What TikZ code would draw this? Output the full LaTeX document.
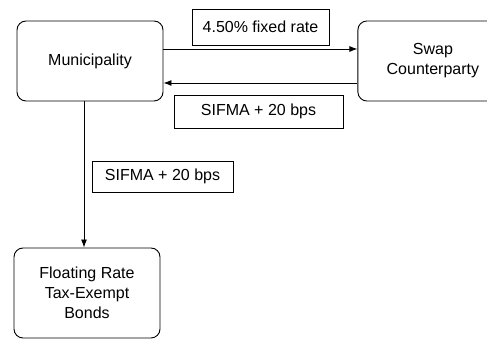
\documentclass[tikz,border=0pt]{standalone}
\usepackage{fontspec}
\setmainfont{Liberation Sans}
\usepackage{tikz}
\usetikzlibrary{arrows,arrows.meta,positioning,calc}

\begin{document}
\begin{tikzpicture}[
    x=1pt, y=1pt,
    >={Latex[length=8pt,width=6pt]},
    every node/.style={font=\fontsize{16}{20}\selectfont},
    party/.style={draw, line width=0.9pt, rounded corners=9pt,
                  minimum width=146pt, minimum height=80pt,
                  align=center, inner sep=0pt},
    flowlabel/.style={draw, line width=0.7pt, align=center,
                      inner sep=0pt},
    flow/.style={->, line width=0.9pt},
]
\useasboundingbox (0,0) rectangle (487,339);

% --- Parties ---
\node[party] (muni) at (90,278) {Municipality};
\node[party, minimum width=150pt, right=194pt of muni] (swap)
    {Swap\\Counterparty};
\node[party, minimum height=90pt] (bonds) at (87,46)
    {Floating Rate\\Tax-Exempt\\Bonds};

% --- Payment labels ---
\node[flowlabel, minimum width=137pt, minimum height=36pt] (fixed)
    at (260.5,312) {4.50\% fixed rate};
\node[flowlabel, minimum width=169pt, minimum height=33pt] (sifmaswap)
    at (258.5,227.5) {SIFMA + 20 bps};
\node[flowlabel, minimum width=141pt, minimum height=31pt] (sifmabond)
    at (162.5,162.5) {SIFMA + 20 bps};

% --- Arrows ---
\draw[flow] ([yshift=12pt]muni.east) -- ([yshift=12pt]muni.east -| swap.west);
\draw[flow] ([yshift=-22pt]swap.west) -- ([yshift=-22pt]swap.west -| muni.east);
\draw[flow] ([xshift=-6pt]muni.south) -- ([xshift=-6pt]muni.south |- bonds.north);

\end{tikzpicture}
\end{document}
